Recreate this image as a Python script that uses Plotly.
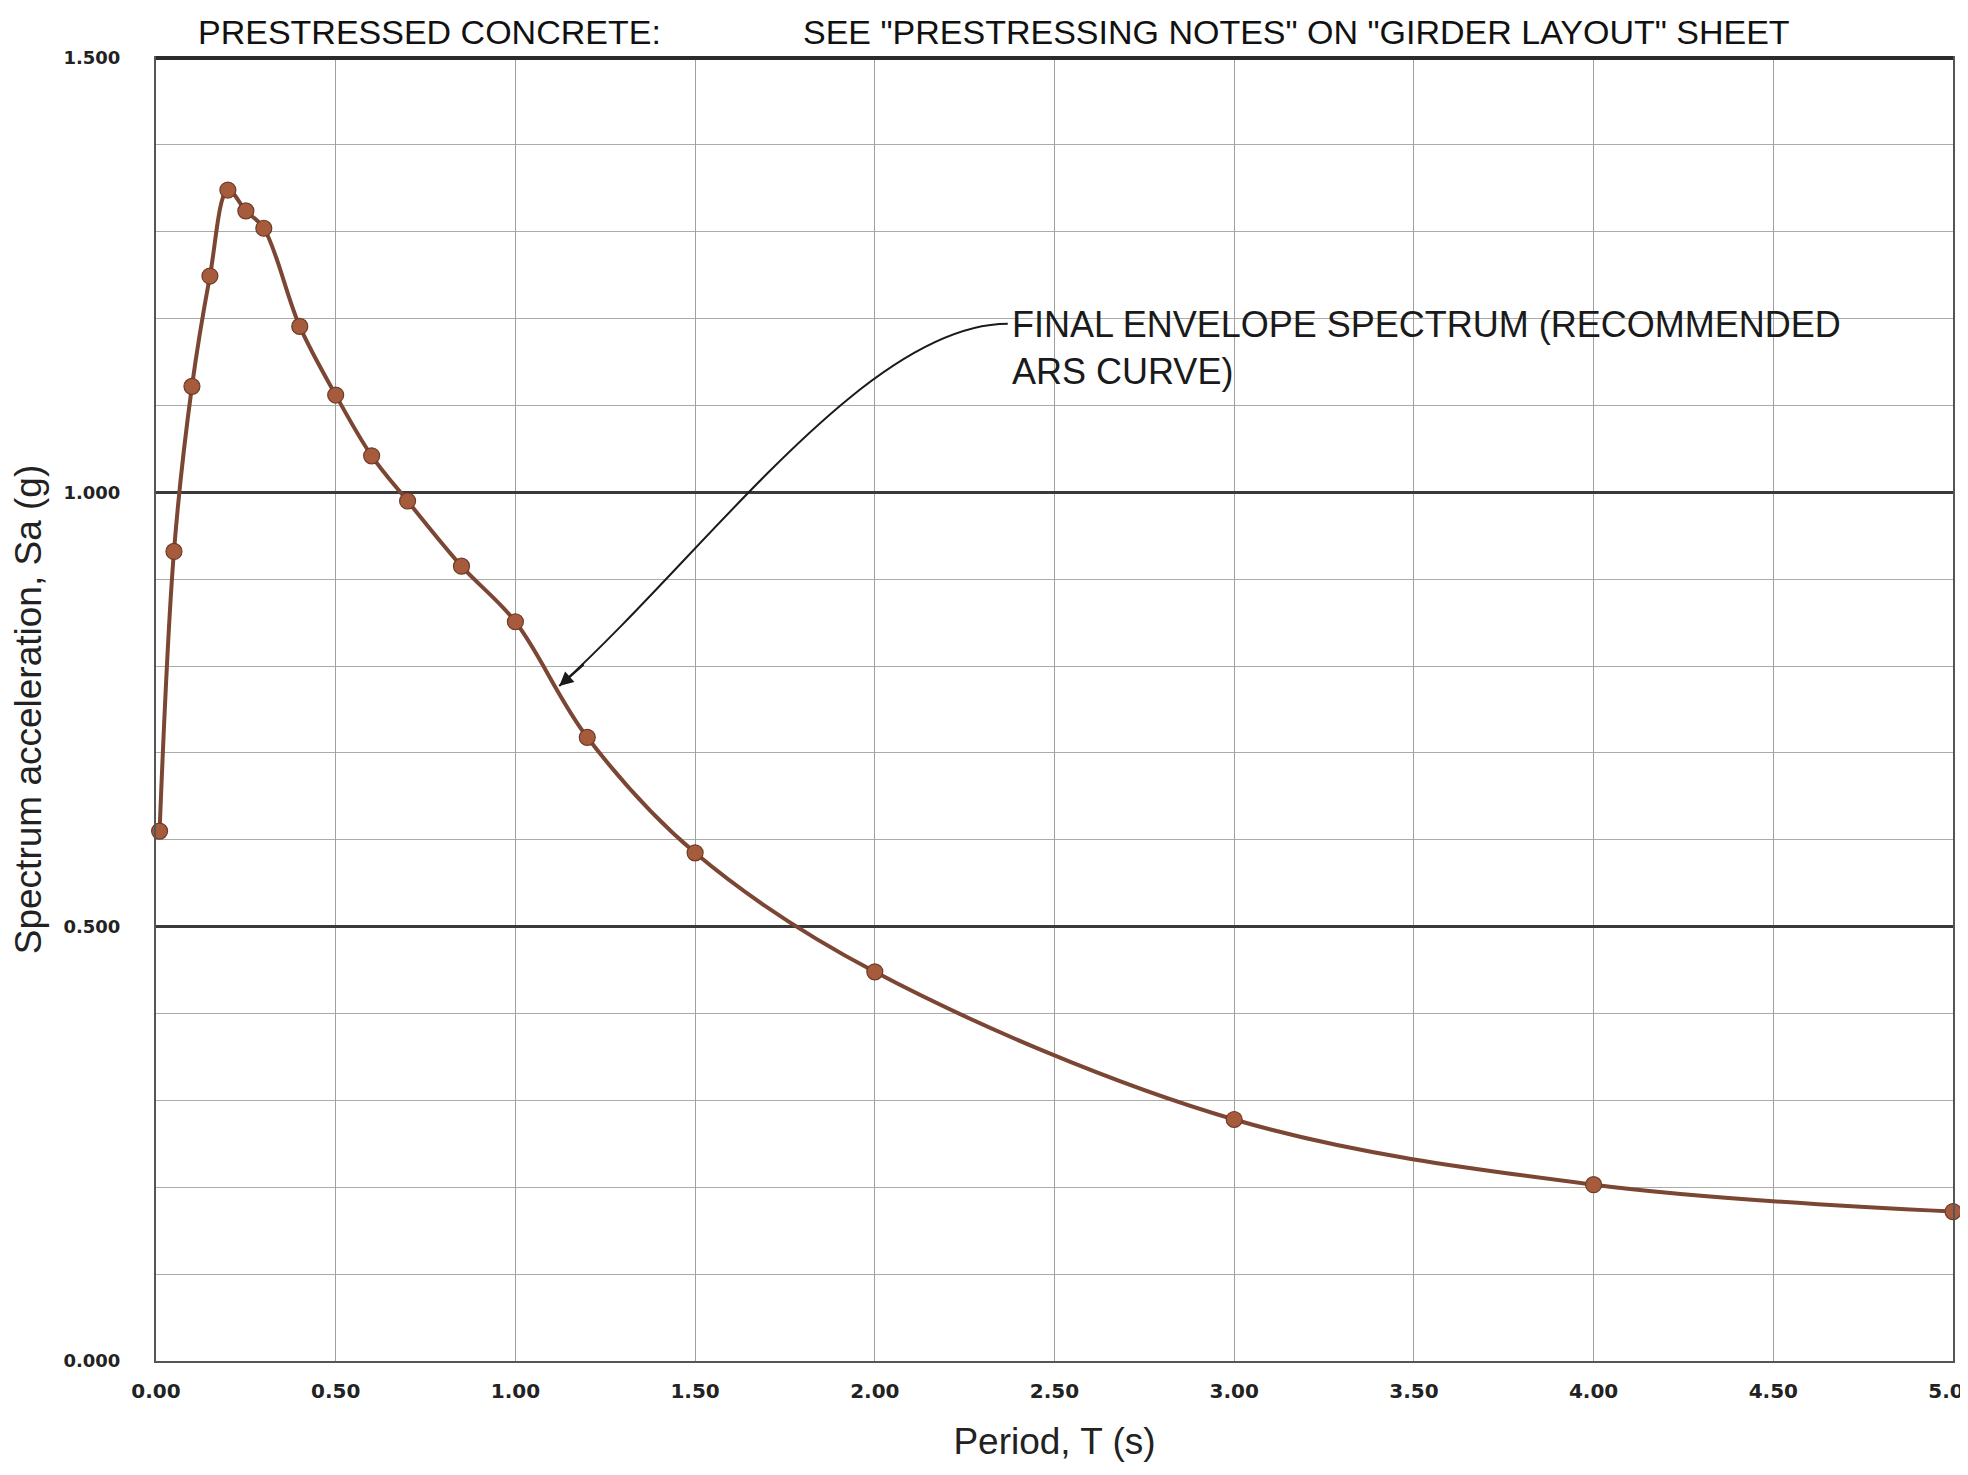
import plotly.graph_objects as go

# response spectrum points (period in s, spectral acceleration in g)
period = [0.01, 0.05, 0.10, 0.15, 0.20, 0.25, 0.30, 0.40, 0.50, 0.60,
          0.70, 0.85, 1.00, 1.20, 1.50, 2.00, 3.00, 4.00, 5.00]
sa = [0.610, 0.932, 1.122, 1.249, 1.348, 1.324, 1.304, 1.191, 1.112, 1.042,
      0.990, 0.915, 0.851, 0.718, 0.585, 0.448, 0.278, 0.203, 0.172]

x_ticks = [0.0, 0.5, 1.0, 1.5, 2.0, 2.5, 3.0, 3.5, 4.0, 4.5, 5.0]
y_ticks = [0.0, 0.5, 1.0, 1.5]

curve_label = "FINAL ENVELOPE SPECTRUM (RECOMMENDED<br>ARS CURVE)"
header_left = "PRESTRESSED CONCRETE:"
header_right = 'SEE "PRESTRESSING NOTES" ON "GIRDER LAYOUT" SHEET'

W, H = 1968, 1475
ML, MR, MT, MB = 148, 23, 50, 122
plot_w = W - ML - MR

fig = go.Figure()
fig.add_trace(go.Scatter(
    x=period, y=sa, mode="lines+markers",
    line=dict(color="#7b4633", width=4, shape="spline", smoothing=1),
    marker=dict(size=16, color="#a65c3c", line=dict(color="#6e3b27", width=1.2)),
    cliponaxis=False, showlegend=False,
))

# curved leader from the label down to the curve
fig.add_shape(type="path", xref="x", yref="y",
              path="M 2.37,1.194 C 1.98,1.194 1.53,0.930 1.122,0.777",
              line=dict(color="#1a1a1a", width=2))
fig.add_annotation(x=1.122, y=0.777, xref="x", yref="y", text="",
                   showarrow=True, arrowhead=2, arrowsize=1.4, arrowwidth=2,
                   arrowcolor="#1a1a1a", ax=26, ay=-23, standoff=0)
fig.add_annotation(x=2.375, y=1.166, xref="x", yref="y", text=curve_label,
                   showarrow=False, xanchor="left", yanchor="middle", align="left",
                   font=dict(family="Liberation Sans, Arial", size=36, color="#1a1a1a"))

# header text along the top edge of the sheet
for txt, px in [(header_left, 188), (header_right, 793)]:
    fig.add_annotation(x=(px - ML) / plot_w, y=1, xref="paper", yref="paper",
                       text=txt, showarrow=False, xanchor="left", yanchor="bottom",
                       yshift=5,
                       font=dict(family="Liberation Sans, Arial", size=34, color="#111"))

# heavy top border and dark page edge on the right
fig.add_shape(type="line", xref="paper", yref="paper", x0=0, x1=1, y0=1, y1=1,
              line=dict(color="#2b2b2b", width=4))
fig.add_shape(type="line", xref="paper", yref="paper", x0=1.0075, x1=1.0075,
              y0=-0.2, y1=1.1, line=dict(color="#2a211c", width=12), layer="above")

fig.update_xaxes(
    range=[0, 5], tickvals=x_ticks, tickformat=".2f",
    showgrid=True, gridcolor="#a0a0a0", gridwidth=1,
    showline=True, linecolor="#555", linewidth=2, mirror=True,
    ticks="outside", ticklen=11, tickcolor="rgba(0,0,0,0)",
    ticklabeloverflow="allow",
    tickfont=dict(family="DejaVu Sans", size=20, weight="bold", color="#222"),
    zeroline=False,
    title=dict(text="Period, T (s)", standoff=26,
               font=dict(family="Liberation Sans, Arial", size=37, color="#222")),
)
fig.update_yaxes(
    range=[0, 1.5], tickvals=y_ticks, tickformat=".3f",
    showgrid=True, gridcolor="#3a3a3a", gridwidth=2.5,
    minor=dict(dtick=0.1, showgrid=True, gridcolor="#ababab", gridwidth=1),
    showline=True, linecolor="#555", linewidth=2, mirror=True,
    ticks="outside", ticklen=30, tickcolor="rgba(0,0,0,0)",
    tickfont=dict(family="DejaVu Sans", size=18, weight="bold", color="#222"),
    zeroline=False,
    title=dict(text="Spectrum acceleration, Sa (g)", standoff=14,
               font=dict(family="Liberation Sans, Arial", size=37, color="#222")),
)
fig.update_layout(
    width=W, height=H,
    margin=dict(l=ML, r=MR, t=MT, b=MB, autoexpand=False),
    paper_bgcolor="white", plot_bgcolor="white",
)

fig.write_html("out.html")
